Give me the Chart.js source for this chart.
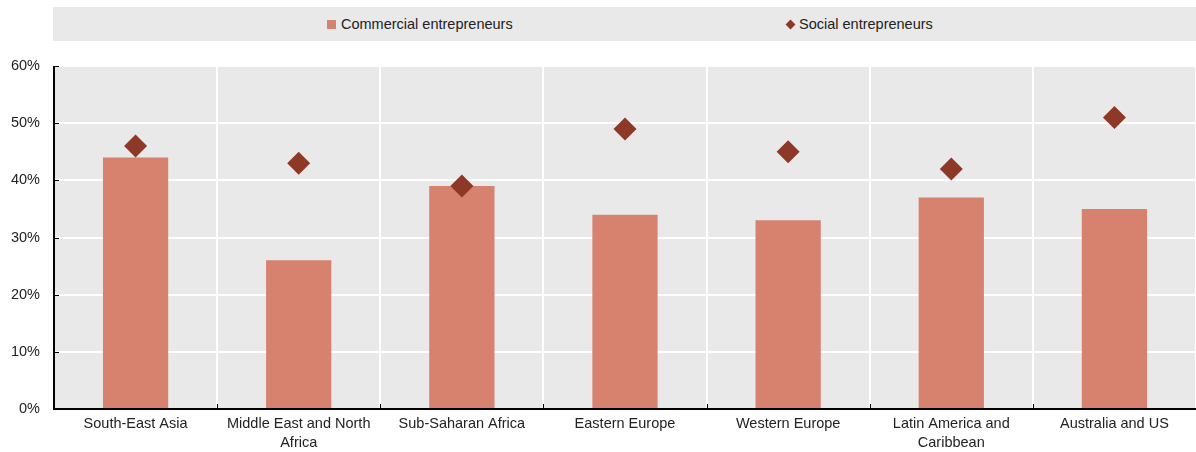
<!DOCTYPE html>
<html>
<head>
<meta charset="utf-8">
<script src="https://cdn.jsdelivr.net/npm/chart.js@4"></script>
<style>
  html, body { margin: 0; padding: 0; background: #fff; }
  #wrap { position: relative; width: 1196px; height: 452px; overflow: hidden; }
  #legend {
    position: absolute; left: 53px; top: 7px; width: 1143px; height: 34px;
    background: #e9e9e9; font-family: "Liberation Sans", Arial, sans-serif;
    font-size: 14.5px; color: #222;
  }
  .item { position: absolute; top: 0; height: 34px; line-height: 34px; white-space: nowrap; }
  .sq { display: inline-block; width: 9px; height: 9px; background: #d6826f; margin-right: 5px; vertical-align: 0px; }
  .dm { display: inline-block; width: 7px; height: 7px; background: #8e3828; transform: rotate(45deg); margin-right: 5px; margin-left: 1px; vertical-align: 1px; }
  canvas { position: absolute; left: 0; top: 0; }
</style>
</head>
<body>
<div id="wrap">
  <canvas id="c" width="1196" height="452"></canvas>
  <div id="legend">
    <div class="item" style="left:274px"><span class="sq"></span>Commercial entrepreneurs</div>
    <div class="item" style="left:733px"><span class="dm"></span>Social entrepreneurs</div>
  </div>
</div>
<script>
const categories = ["South-East Asia", ["Middle East and North", "Africa"], "Sub-Saharan Africa", "Eastern Europe", "Western Europe", ["Latin America and", "Caribbean"], "Australia and US"];
const commercialEntrepreneurs = [44, 26, 39, 34, 33, 37, 35];
const socialEntrepreneurs = [46, 43, 39, 49, 45, 42, 51];
const yTicks = [0, 10, 20, 30, 40, 50, 60];

const FONT = '"Liberation Sans", Arial, sans-serif';

const bgPlugin = {
  id: 'bg',
  beforeDraw(chart) {
    const { ctx, chartArea: a } = chart;
    ctx.save();
    ctx.fillStyle = '#e9e9e9';
    ctx.fillRect(a.left, a.top, a.right - a.left, a.bottom - a.top);
    ctx.restore();
  },
  afterDatasetsDraw(chart) {
    const { ctx, chartArea: a, scales } = chart;
    ctx.save();
    ctx.strokeStyle = '#000';
    ctx.lineWidth = 1;
    scales.y.ticks.forEach((t, i) => {
      const y = Math.round(scales.y.getPixelForTick(i)) + 0.5;
      ctx.beginPath(); ctx.moveTo(a.left, y); ctx.lineTo(a.left + 5, y); ctx.stroke();
    });
    const n = categories.length;
    for (let i = 1; i < n; i++) {
      const x = Math.round((scales.x.getPixelForValue(i - 1) + scales.x.getPixelForValue(i)) / 2) + 0.5;
      ctx.beginPath(); ctx.moveTo(x, a.bottom); ctx.lineTo(x, a.bottom - 5); ctx.stroke();
    }
    ctx.lineWidth = 2;
    ctx.beginPath(); ctx.moveTo(a.left, a.top); ctx.lineTo(a.left, a.bottom); ctx.lineTo(a.right, a.bottom); ctx.stroke();
    ctx.restore();
  }
};

new Chart(document.getElementById('c'), {
  type: 'bar',
  data: {
    labels: categories,
    datasets: [
      {
        type: 'line',
        label: 'Social entrepreneurs',
        data: socialEntrepreneurs,
        showLine: false,
        pointStyle: 'rectRot',
        pointRadius: 11.5,
        pointHoverRadius: 11.5,
        backgroundColor: '#8e3828',
        borderColor: '#8e3828',
        borderWidth: 0,
        order: 1
      },
      {
        type: 'bar',
        label: 'Commercial entrepreneurs',
        data: commercialEntrepreneurs,
        backgroundColor: '#d6826f',
        borderWidth: 0,
        categoryPercentage: 0.8,
        barPercentage: 0.5,
        order: 2
      }
    ]
  },
  options: {
    responsive: false,
    animation: false,
    events: [],
    layout: { autoPadding: false, padding: { top: 66, right: -3, left: 0, bottom: 0 } },
    plugins: { legend: { display: false }, tooltip: { enabled: false } },
    scales: {
      x: {
        offset: true,
        grid: { color: '#fff', lineWidth: 2, drawTicks: false, offset: true },
        border: { display: false },
        ticks: { color: '#222', font: { family: FONT, size: 14.5, lineHeight: 1.3 }, padding: 6, maxRotation: 0, autoSkip: false },
        afterFit(s) { s.height = 43; s.paddingLeft = 0; s.paddingRight = 0; }
      },
      y: {
        min: 0, max: 60,
        afterBuildTicks(s) { s.ticks = yTicks.map(v => ({ value: v })); },
        grid: { color: '#fff', lineWidth: 2, drawTicks: false },
        border: { display: false },
        ticks: { color: '#222', font: { family: FONT, size: 14.5 }, padding: 14, callback: v => v + '%' },
        afterFit(s) { s.width = 54; }
      }
    }
  },
  plugins: [bgPlugin]
});
</script>
</body>
</html>
